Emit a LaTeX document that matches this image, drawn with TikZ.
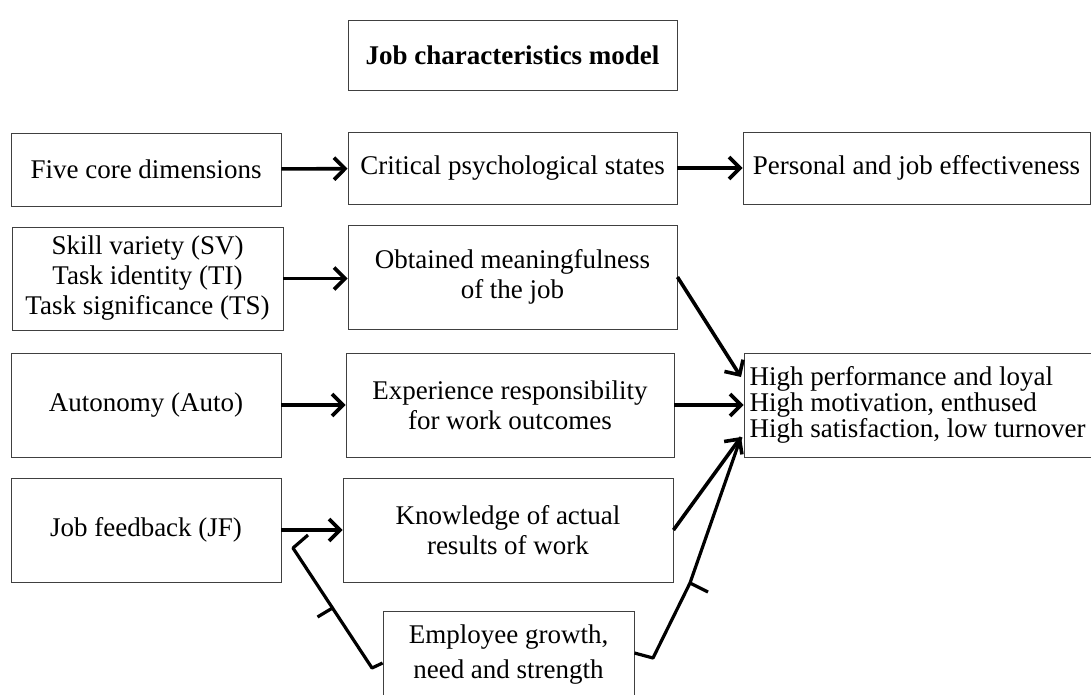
\documentclass[tikz,border=0pt]{standalone}
\usepackage{fontspec}
\setmainfont{Liberation Serif}
\usetikzlibrary{arrows.meta}

\begin{document}
\begin{tikzpicture}[x=1pt,y=-1pt,
  box/.style={draw=black!75,line width=0.9pt,inner sep=0pt,align=center,font=\fontsize{27}{30}\selectfont},
  flow/.style={line width=3.6pt,-{Straight Barb[length=11pt,width=22pt]}},
  moder/.style={line width=3.2pt,line join=round}]
 \useasboundingbox (0,0) rectangle (1091,695);
 \node[box,minimum width=329pt,minimum height=70pt,font=\fontsize{27}{30}\selectfont\bfseries] (jcm) at (512.5,55) {Job characteristics model};
 % top row
 \node[box,minimum width=270pt,minimum height=73pt] (fcd) at (146,169.5) {Five core dimensions};
 \node[box,minimum width=329pt,minimum height=72pt] (cps) at (512.5,168) {Critical psychological states};
 \node[box,minimum width=347pt,minimum height=72pt] (pje) at (916.5,168) {Personal and job effectiveness};
 % dimensions
 \node[box,minimum width=271pt,minimum height=103pt] (stt) at (147.5,278.5) {Skill variety (SV)\\Task identity (TI)\\Task significance (TS)};
 \node[box,minimum width=270pt,minimum height=104pt] (aut) at (146,405) {Autonomy (Auto)};
 \node[box,minimum width=270pt,minimum height=104pt] (jf) at (146,530) {Job feedback (JF)};
 % states
 \node[box,minimum width=329pt,minimum height=104pt] (omj) at (512.5,277) {Obtained meaningfulness\\of the job};
 \node[box,minimum width=328pt,minimum height=104pt] (erw) at (510,405) {Experience responsibility\\for work outcomes};
 \node[box,minimum width=330pt,minimum height=104pt] (kar) at (508,530) {Knowledge of actual\\results of work};
 \node[box,minimum width=251pt,minimum height=87pt,font=\fontsize{27}{35}\selectfont] (egn) at (508.5,654.5) {Employee growth,\\need and strength};
 % outcomes
 \node[box,minimum width=347pt,minimum height=104pt,align=left,font=\fontsize{27}{26}\selectfont] (out) at (917.5,405) {High performance and loyal\\High motivation, enthused\\High satisfaction, low turnover};

 \coordinate (o1) at (741,377);
 \coordinate (o3) at (741,437);
 \coordinate (ml0) at (308,535);
 \coordinate (ml1) at (293,548);
 \coordinate (ml2) at (372,668);
 \coordinate (mlt) at (332.5,608);
 \coordinate (mr1) at (653,658);
 \coordinate (mr2) at (690,583);

 \draw[flow] (fcd) -- (cps);
 \draw[flow] (cps) -- (pje);
 \draw[flow] (stt.east) -- (stt.east -| omj.west);
 \draw[flow] (aut.east) -- (aut.east -| erw.west);
 \draw[flow] (jf.east) -- (jf.east -| kar.west);
 \draw[flow] (omj.east) -- (o1);
 \draw[flow] (erw.east) -- (out.west);
 \draw[flow] (kar.east) -- (o3);

 % moderator
 \draw[moder] ([yshift=-8.5pt]egn.west) -- (ml2) -- (ml1) -- (ml0);
 \draw[moder] (mlt) -- ++(-15,9);
 \draw[moder] ([yshift=1.5pt]egn.east) -- (mr1) -- (mr2) -- (o3);
 \draw[moder] (mr2) -- ++(18,9);
\end{tikzpicture}
\end{document}
